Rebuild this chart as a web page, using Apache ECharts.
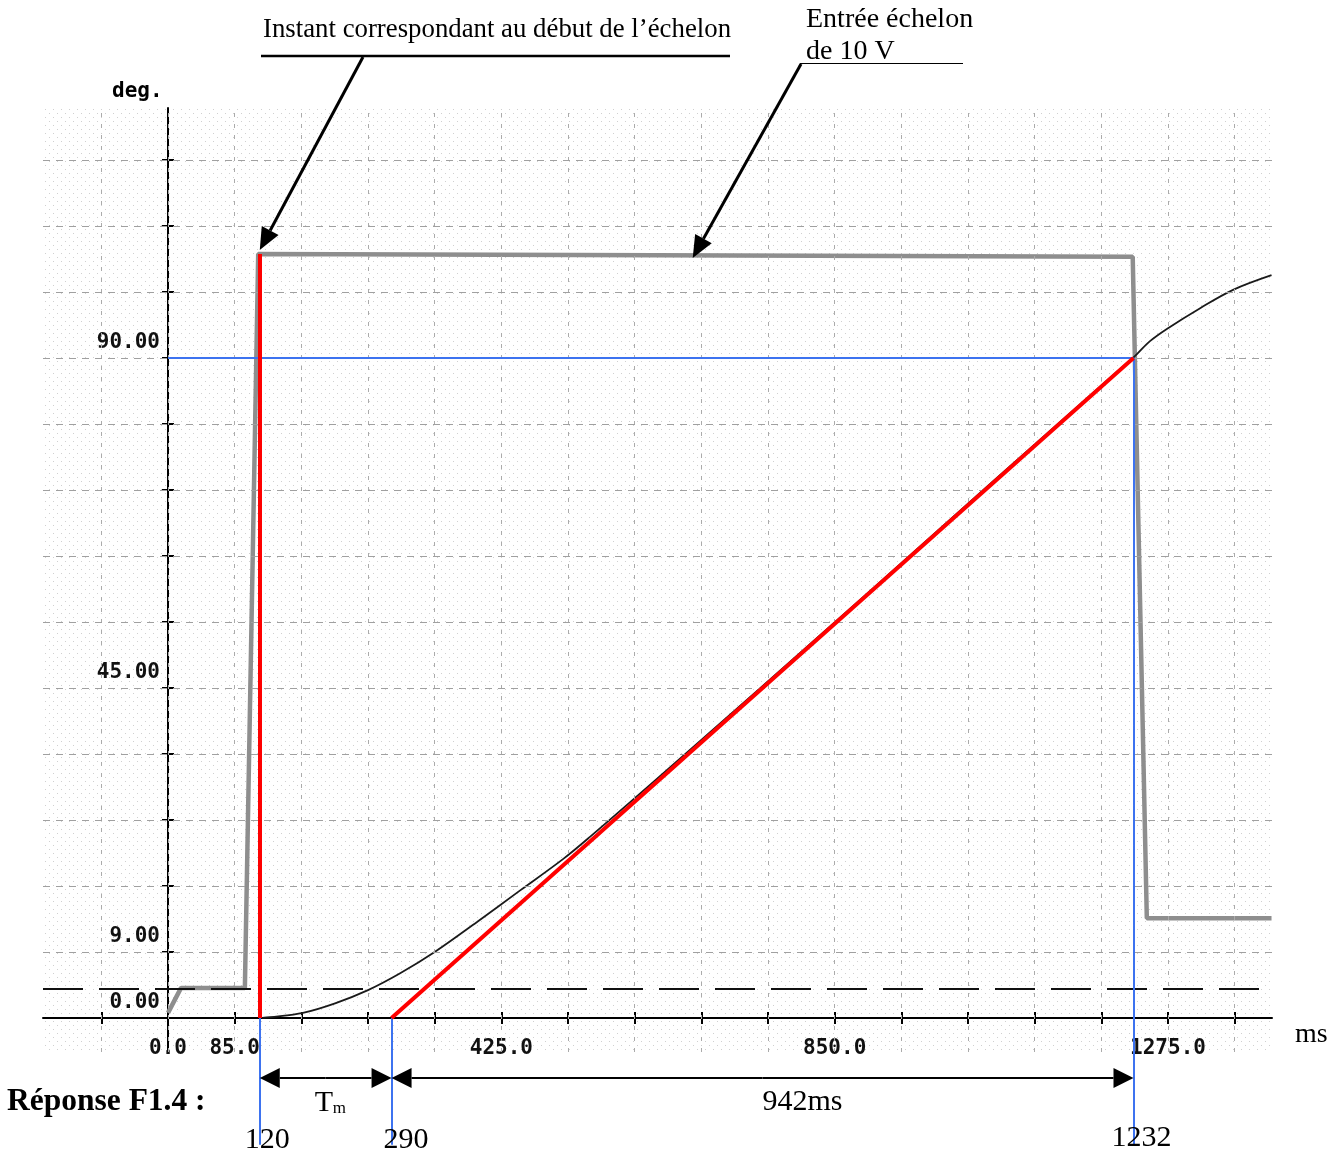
<!DOCTYPE html>
<html><head><meta charset="utf-8">
<script src="https://cdn.jsdelivr.net/npm/echarts@6/dist/echarts.min.js"></script>
<style>html,body{margin:0;padding:0;background:#fff}#c{width:1342px;height:1157px}</style>
</head><body><div id="c"></div>
<script>
// ---------- data ----------
const stepTimes = [0, 16.6, 98, 115, 1230, 1248, 1407];
const stepDeg   = [0.7, 4.1, 4.1, 104.2, 103.8, 13.6, 13.6];

const respTimes = [120, 130, 172, 213, 255, 296, 340, 394, 449, 504, 538, 620, 750, 900, 1050, 1200, 1231, 1236, 1252, 1274, 1316, 1358, 1407];
const respDeg   = [0, 0.1, 0.7, 2.0, 3.8, 6.1, 9.0, 13.1, 17.4, 21.7, 24.7, 32.3, 44.5, 58.7, 73.0, 87.2, 90.1, 90.6, 92.3, 94.0, 96.8, 99.3, 101.3];

const xTickValues  = [-85, 0, 85, 170, 255, 340, 425, 510, 595, 680, 765, 850, 935, 1020, 1105, 1190, 1275, 1360];
const xLabelValues = [0, 85, 425, 850, 1275];
const yTickValues  = [9, 18, 27, 36, 45, 54, 63, 72, 81, 90, 99, 108, 117];
const yLabelValues = [0, 9, 45, 90];

const thresholdDeg = 4.0;     // dashed horizontal line
const tStart = 117;           // start of step (red vertical)
const tCross = 285;           // tangent crosses 0
const tEnd   = 1231;          // tangent reaches 90
const levelDeg = 90;
const stepHigh = 104.2;
const arrow2Target = 669;     // time pointed by "Entrée échelon" arrow
const guideBottomDeg = -17.3; // blue guide lines end below axis
const dimArrowDeg = -8.2;     // double arrows level

const timeLabels = ['120', '290', '1232'];
const spanLabel = '942ms';

// ---------- chart ----------
const chart = echarts.init(document.getElementById('c'), null, {renderer: 'canvas'});

const pc = document.createElement('canvas');
pc.width = 8; pc.height = 8;
const pctx = pc.getContext('2d');
pctx.fillStyle = '#ffffff'; pctx.fillRect(0, 0, 8, 8);
pctx.fillStyle = '#d0d0d0';
pctx.fillRect(1, 1, 1, 1); pctx.fillRect(5, 5, 1, 1);

const GRID = {left: 43, top: 108, width: 1229, height: 944};
const X_MIN = -159.4, X_MAX = 1407.6, Y_MIN = -4.64, Y_MAX = 124.1;
// axes crossing at the origin: offsets derived from the scales
const xZeroPx = (0 - X_MIN) / (X_MAX - X_MIN) * GRID.width;   // from grid left
const yZeroPx = (0 - Y_MIN) / (Y_MAX - Y_MIN) * GRID.height;  // from grid bottom
const monoFont = '"DejaVu Sans Mono", monospace';

const zip = (a, b) => a.map((v, i) => [v, b[i]]);

const gridLineData = [];
xTickValues.forEach(v => gridLineData.push({xAxis: v, lineStyle: {color: '#ababab', width: 1, type: [4, 7]}}));
yTickValues.forEach(v => gridLineData.push({yAxis: v, lineStyle: {color: '#a0a0a0', width: 1, type: [7, 6]}}));
gridLineData.push({yAxis: thresholdDeg, lineStyle: {color: '#111', width: 2, type: [40, 16]}});

const tickStyle = {color: '#000', width: 2};

chart.setOption({
  animation: false,
  backgroundColor: '#ffffff',
  grid: Object.assign({show: true, borderWidth: 0, containLabel: false, outerBoundsMode: 'none',
         backgroundColor: {image: pc, repeat: 'repeat'}}, GRID),
  xAxis: [
    {
      type: 'value', min: X_MIN, max: X_MAX, position: 'bottom', offset: -yZeroPx,
      splitLine: {show: false},
      axisLine: {show: true, onZero: false, lineStyle: {color: '#000', width: 2}},
      axisTick: {show: true, length: 6, customValues: xTickValues, lineStyle: tickStyle},
      axisLabel: {show: true, customValues: xLabelValues, margin: 20, color: '#111',
        fontFamily: monoFont, fontWeight: 'bold', fontSize: 21,
        formatter: v => Number(v).toFixed(1)}
    },
    {
      type: 'value', min: X_MIN, max: X_MAX, position: 'top', offset: -(GRID.height - yZeroPx),
      splitLine: {show: false},
      axisLine: {show: false, onZero: false},
      axisTick: {show: true, length: 6, customValues: xTickValues, lineStyle: tickStyle},
      axisLabel: {show: false}
    }
  ],
  yAxis: [
    {
      type: 'value', min: Y_MIN, max: Y_MAX, position: 'left', offset: -xZeroPx,
      splitLine: {show: false},
      axisLine: {show: true, onZero: false, lineStyle: {color: '#000', width: 2}},
      axisTick: {show: true, length: 6, customValues: yTickValues, lineStyle: tickStyle},
      axisLabel: {show: true, customValues: yLabelValues, margin: 8, color: '#111',
        fontFamily: monoFont, fontWeight: 'bold', fontSize: 21,
        verticalAlign: 'bottom', lineHeight: 30,
        formatter: v => Number(v).toFixed(2)}
    },
    {
      type: 'value', min: Y_MIN, max: Y_MAX, position: 'right', offset: -(GRID.width - xZeroPx),
      splitLine: {show: false},
      axisLine: {show: false, onZero: false},
      axisTick: {show: true, length: 6, customValues: yTickValues, lineStyle: tickStyle},
      axisLabel: {show: false}
    }
  ],
  series: [
    {
      type: 'line', data: [], silent: true, z: 1,
      markLine: {silent: true, symbol: ['none', 'none'], label: {show: false}, animation: false,
                 emphasis: {disabled: true}, data: gridLineData}
    },
    {
      type: 'line', name: 'step', data: zip(stepTimes, stepDeg), showSymbol: false, symbol: 'none',
      lineStyle: {color: '#8e8e8e', width: 4.5}, z: 3, silent: true
    },
    {
      type: 'line', name: 'response', data: zip(respTimes, respDeg), showSymbol: false, symbol: 'none',
      smooth: 0.35,
      lineStyle: {color: '#1a1a1a', width: 1.8}, z: 4, silent: true
    },
    {
      type: 'lines', coordinateSystem: 'cartesian2d', clip: false, z: 5, silent: true,
      lineStyle: {color: '#3d73f0', width: 2, opacity: 1},
      data: [
        {coords: [[0, levelDeg], [tEnd, levelDeg]]},
        {coords: [[tStart, 0], [tStart, guideBottomDeg]]},
        {coords: [[tCross, 0], [tCross, guideBottomDeg]]},
        {coords: [[tEnd, levelDeg], [tEnd, guideBottomDeg]]}
      ]
    },
    {
      type: 'lines', coordinateSystem: 'cartesian2d', clip: false, z: 6, silent: true,
      lineStyle: {color: '#ff0000', width: 4, opacity: 1},
      data: [
        {coords: [[tStart, 0], [tStart, stepHigh]]},
        {coords: [[tCross, 0], [tEnd, levelDeg]]}
      ]
    }
  ]
});

// ---------- annotations (positions via the chart's own scales) ----------
const P = (x, y) => chart.convertToPixel({gridIndex: 0}, [x, y]);

function arrowEls(from, tip, len, hw, width) {
  const dx = tip[0] - from[0], dy = tip[1] - from[1];
  const L = Math.hypot(dx, dy);
  const ux = dx / L, uy = dy / L;
  const bx = tip[0] - ux * len, by = tip[1] - uy * len;
  const nx = -uy, ny = ux;
  return [
    {type: 'line', shape: {x1: from[0], y1: from[1], x2: bx, y2: by},
     style: {stroke: '#000', lineWidth: width}, z: 100},
    {type: 'polygon', shape: {points: [[tip[0], tip[1]], [bx + nx * hw, by + ny * hw], [bx - nx * hw, by - ny * hw]]},
     style: {fill: '#000'}, z: 100}
  ];
}
function txt(t, x, y, font, align) {
  return {type: 'text', z: 100, style: {text: t, x: x, y: y, font: font, fill: '#000',
    align: align || 'left', verticalAlign: 'middle', textAlign: align || 'left', textVerticalAlign: 'middle'}};
}

const serif = '"Liberation Serif", "Times New Roman", serif';
const pStartTop = P(tStart, stepHigh);
const pArrow2 = P(arrow2Target, stepHigh);
const pS = P(tStart, dimArrowDeg), pC = P(tCross, dimArrowDeg), pE = P(tEnd, dimArrowDeg);
const yDim = pS[1];

let els = [];
// top-left annotation
els.push(txt('Instant correspondant au début de l\u2019échelon', 263, 30, '26.8px ' + serif));
els.push({type: 'line', z: 100, shape: {x1: 261, y1: 56, x2: 730, y2: 56}, style: {stroke: '#000', lineWidth: 2.6}});
els = els.concat(arrowEls([363, 57], [pStartTop[0], pStartTop[1] - 4], 22, 9.5, 3));
// top-right annotation
els.push(txt('Entrée échelon', 806, 20, '28px ' + serif));
els.push(txt('de 10 V', 806, 52, '28px ' + serif));
els.push({type: 'line', z: 100, shape: {x1: 800, y1: 63.5, x2: 963, y2: 63.5}, style: {stroke: '#000', lineWidth: 1.2}});
els = els.concat(arrowEls([801, 64], [pArrow2[0], pArrow2[1] + 4], 22, 9.5, 3));
// axis units
els.push(txt('deg.', 112, 92, 'bold 21px ' + monoFont));
els.push(txt('ms', 1295, 1035, '28px ' + serif));
// answer block
els.push(txt('Réponse F1.4 :', 7, 1102, 'bold 31.5px ' + serif));
// double arrows
function dimArrow(a, b) {
  const mid = (a[0] + b[0]) / 2;
  return arrowEls([mid, yDim], [a[0], yDim], 20, 10, 2).concat(arrowEls([mid, yDim], [b[0], yDim], 20, 10, 2));
}
els = els.concat(dimArrow(pS, pC));
els = els.concat(dimArrow(pC, pE));
els.push(txt('T', pS[0] + 55, 1103, '30px ' + serif));
els.push(txt('m', pS[0] + 73, 1109, '17px ' + serif));
els.push(txt(spanLabel, (pC[0] + pE[0]) / 2, 1102, '30px ' + serif));
// time labels under guide lines
els.push(txt(timeLabels[0], pS[0] - 15, 1140, '30px ' + serif));
els.push(txt(timeLabels[1], pC[0] - 8, 1140, '30px ' + serif));
els.push(txt(timeLabels[2], P(tEnd, 0)[0] - 22, 1138, '30px ' + serif));

chart.setOption({graphic: {elements: els}});
</script>
</body></html>
